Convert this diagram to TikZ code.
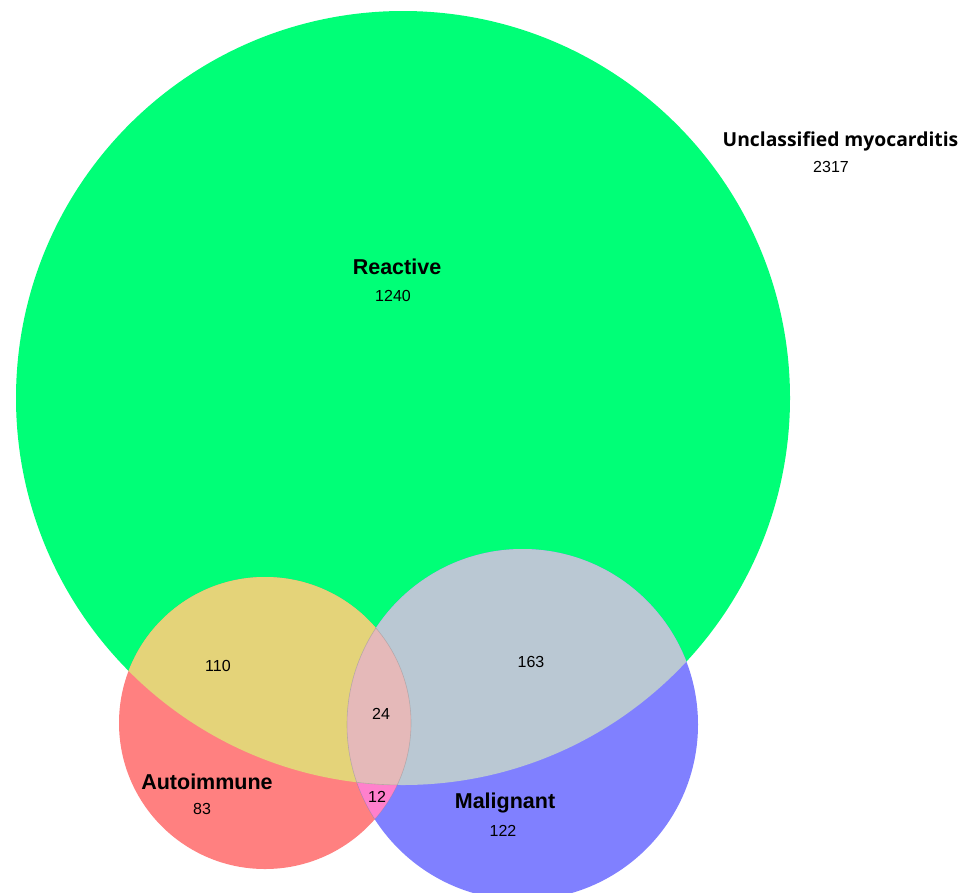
\documentclass[tikz,border=0pt]{standalone}
\usepackage{fontspec}
\setmainfont{Liberation Sans}
\newfontfamily\titlefont{Open Sans}
\definecolor{cgreen}{HTML}{00FF77}
\definecolor{cred}{HTML}{FF8080}
\definecolor{cblue}{HTML}{8080FF}
\definecolor{crg}{HTML}{E4D379}
\definecolor{cbg}{HTML}{BAC8D3}
\definecolor{crb}{HTML}{FF80CC}
\definecolor{crbg}{HTML}{E5B9B9}
\tikzset{
  setlabel/.style={font=\fontsize{21.5}{24}\selectfont\bfseries, inner sep=0pt},
  countlabel/.style={font=\fontsize{16}{18}\selectfont, inner sep=0pt},
  lensline/.style={draw=gray, draw opacity=0.35, line width=0.6pt}
}
\begin{document}
\begin{tikzpicture}[x=1pt,y=-1pt]
\useasboundingbox[fill=white] (0,0) rectangle (968,892);
\coordinate (G) at (403,398);
\coordinate (R) at (265,723);
\coordinate (B) at (522.5,724.5);
\def\pathG{(G) circle[radius=387pt]}
\def\pathR{(R) circle[radius=146pt]}
\def\pathB{(B) circle[radius=175.5pt]}
% single sets
\fill[cgreen] \pathG;
\fill[cred] \pathR;
\fill[cblue] \pathB;
% red & blue only
\begin{scope}
  \clip \pathR;
  \fill[crb] \pathB;
\end{scope}
% red & green
\begin{scope}
  \clip \pathG;
  \fill[crg] \pathR;
\end{scope}
% blue & green
\begin{scope}
  \clip \pathG;
  \fill[cbg] \pathB;
\end{scope}
% all three
\begin{scope}
  \clip \pathG;
  \clip \pathR;
  \fill[crbg] \pathB;
\end{scope}
% faint lens edges
\begin{scope}
  \clip \pathR;
  \draw[lensline] \pathB;
\end{scope}
\begin{scope}
  \clip \pathB;
  \draw[lensline] \pathR;
  \clip \pathR;
  \draw[lensline] \pathG;
\end{scope}
% labels
\node[setlabel] (reactive) at (397,267) {Reactive};
\node[countlabel] (n1240) at (393,296) {1240};
\node[font=\titlefont\fontsize{19.3}{22}\selectfont\bfseries, inner sep=0pt] (unclass) at (840.5,141) {Unclassified myocarditis};
\node[countlabel] (n2317) at (831,167) {2317};
\node[countlabel] (n110) at (218,666) {110};
\node[countlabel] (n163) at (531,662) {163};
\node[countlabel] (n24) at (381,714) {24};
\node[countlabel] (n12) at (377,797) {12};
\node[setlabel] (auto) at (207,782) {Autoimmune};
\node[countlabel] (n83) at (202,809) {83};
\node[setlabel] (malig) at (505,803) {Malignant};
\node[countlabel] (n122) at (503,831) {122};
\end{tikzpicture}
\end{document}
